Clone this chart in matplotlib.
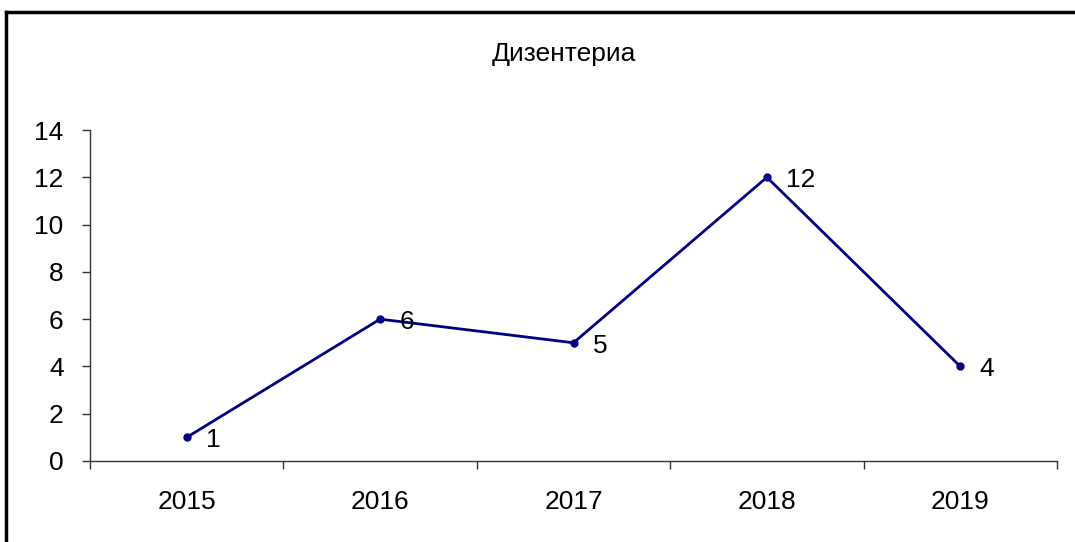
import numpy as np
import matplotlib
matplotlib.use("Agg")
from matplotlib import pyplot as plt
from matplotlib.lines import Line2D

plt.rcParams['font.family'] = ['Liberation Sans', 'DejaVu Sans']

years = ['2015', '2016', '2017', '2018', '2019']
cases = [1, 6, 5, 12, 4]
title = 'Дизентериа'

fig = plt.figure(figsize=(10.75, 5.42), dpi=100)
fig.patch.set_facecolor('white')
ax = fig.add_axes([90/1075, 81/542, 967/1075, 331/542])

pos = np.arange(len(years)) + 0.5
ax.plot(pos, cases, color='#000080', lw=2, marker='o', ms=5, mfc='#000080', mec='#000080')
for x, v in zip(pos, cases):
    ax.annotate(str(v), (x, v), xytext=(14, -2), textcoords='offset points',
                ha='left', va='center', fontsize=19, color='black')

ax.set_xlim(0, len(years))
ax.set_ylim(0, 14)
ax.set_yticks(range(0, 15, 2))
ax.set_xticks(np.arange(len(years) + 1))
ax.set_xticklabels([])
ax.set_xticks(pos, minor=True)
ax.set_xticklabels(years, minor=True)
ax.tick_params(axis='x', which='major', direction='out', length=6, width=1, color='#333333')
ax.tick_params(axis='x', which='minor', length=0, pad=21, labelsize=19)
ax.tick_params(axis='y', direction='out', length=6, width=1, color='#333333', pad=13, labelsize=19)

for s in ['top', 'right']:
    ax.spines[s].set_visible(False)
for s in ['left', 'bottom']:
    ax.spines[s].set_color('#333333')
    ax.spines[s].set_linewidth(1)

fig.text(564/1075, 1 - 54/542, title, ha='center', va='center', fontsize=19)

# outer frame (left and top edges)
fig.add_artist(Line2D([6/1075, 6/1075], [0, 1 - 12/542], transform=fig.transFigure, color='black', lw=2.5))
fig.add_artist(Line2D([6/1075, 1], [1 - 12/542, 1 - 12/542], transform=fig.transFigure, color='black', lw=2.5))

fig.savefig('out.png', dpi=100)
